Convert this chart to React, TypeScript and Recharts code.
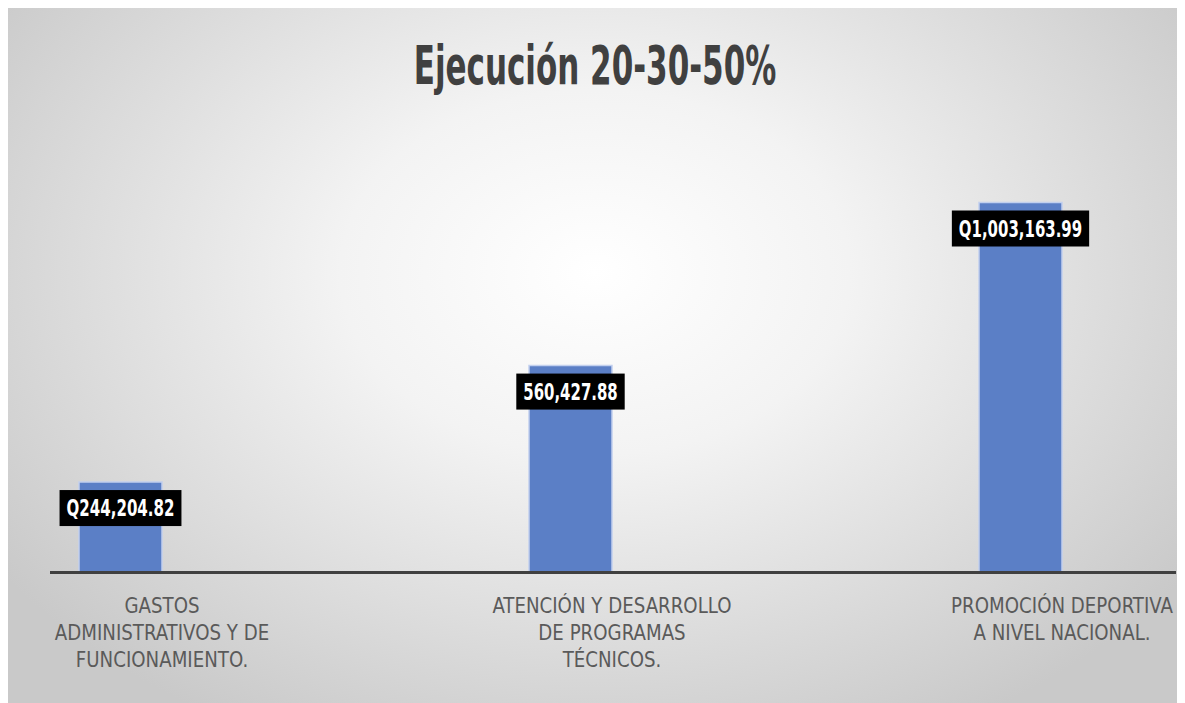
import { BarChart, Bar, XAxis, YAxis, LabelList } from 'recharts'

const categories = [
  'GASTOS\nADMINISTRATIVOS Y DE\nFUNCIONAMIENTO.',
  'ATENCIÓN Y DESARROLLO\nDE PROGRAMAS\nTÉCNICOS.',
  'PROMOCIÓN DEPORTIVA\nA NIVEL NACIONAL.',
]
const ejecucion = [244204.82, 560427.88, 1003163.99]
const etiquetas = ['Q244,204.82', '560,427.88', 'Q1,003,163.99']
// the source chart carries a second, empty series that pushes each bar left of its label
const serieVacia = [null, null, null]

const data = categories.map((name, i) => ({
  name,
  ejecucion: ejecucion[i],
  etiqueta: etiquetas[i],
  vacia: serieVacia[i],
}))

const narrow = "'Liberation Sans Narrow', 'DejaVu Sans Condensed', 'Roboto', sans-serif"

function CategoryTick({ x, y, payload }: any) {
  const lines = String(payload.value).split('\n')
  return (
    <g transform={`translate(${x},${y}) scale(0.92,1)`}>
      <text x={0} y={0} textAnchor="middle" fill="#5a5a5a" fontSize={22} fontFamily={narrow}>
        {lines.map((line, i) => (
          <tspan key={i} x={0} dy={i === 0 ? 41 : 27}>
            {line}
          </tspan>
        ))}
      </text>
    </g>
  )
}

// rough width of the label text, so the black box hugs it
function textWidth(s: string) {
  let w = 0
  for (const c of s) w += /[0-9]/.test(c) ? 10.6 : /[.,]/.test(c) ? 4.8 : 13.5
  return w
}

function ValueBox(props: any) {
  const { x, y, width, value } = props
  const text = String(value)
  const cx = x + width / 2
  const cy = y + 26
  const tw = textWidth(text)
  const w = tw + 14
  return (
    <g>
      <rect x={cx - w / 2} y={cy - 18} width={w} height={36} fill="#000" />
      <text
        x={cx}
        y={cy}
        dy="0.36em"
        textAnchor="middle"
        fill="#fff"
        fontWeight="bold"
        fontSize={23}
        fontFamily={narrow}
        textLength={tw}
        lengthAdjust="spacingAndGlyphs"
      >
        {text}
      </text>
    </g>
  )
}

export default function App() {
  return (
    <div
      style={{
        position: 'relative',
        width: 1174,
        height: 695,
        overflow: 'hidden',
        background: 'radial-gradient(ellipse 62% 75% at 50% 38%, #ffffff 0%, #f3f3f3 35%, #c9c9c9 100%)',
      }}
    >
      <div
        style={{
          position: 'absolute',
          top: 26,
          left: 0,
          width: '100%',
          textAlign: 'center',
          fontFamily: narrow,
          fontWeight: 'bold',
          fontSize: 53,
          lineHeight: '64px',
          color: '#404040',
          transform: 'scaleX(0.65)',
        }}
      >
        Ejecución 20-30-50%
      </div>
      <div style={{ position: 'absolute', left: -71, top: 0 }}>
        <BarChart
          width={1350}
          height={695}
          data={data}
          margin={{ top: 122, right: 0, left: 0, bottom: 0 }}
          barGap={0}
        >
          <XAxis
            dataKey="name"
            height={131}
            axisLine={false}
            tickLine={false}
            tickSize={0}
            tickMargin={0}
            interval={0}
            tick={<CategoryTick />}
          />
          <YAxis hide domain={[0, 1200000]} />
          <Bar dataKey="ejecucion" fill="#5b7fc6" stroke="#c2d0ee" strokeWidth={1.5} barSize={83} isAnimationActive={false}>
            <LabelList dataKey="etiqueta" content={<ValueBox />} />
          </Bar>
          <Bar dataKey="vacia" fill="#ed7d31" barSize={83} isAnimationActive={false} />
        </BarChart>
      </div>
      <div style={{ position: 'absolute', left: 42, top: 562.5, width: 1126, height: 3, background: '#404040' }} />
    </div>
  )
}
